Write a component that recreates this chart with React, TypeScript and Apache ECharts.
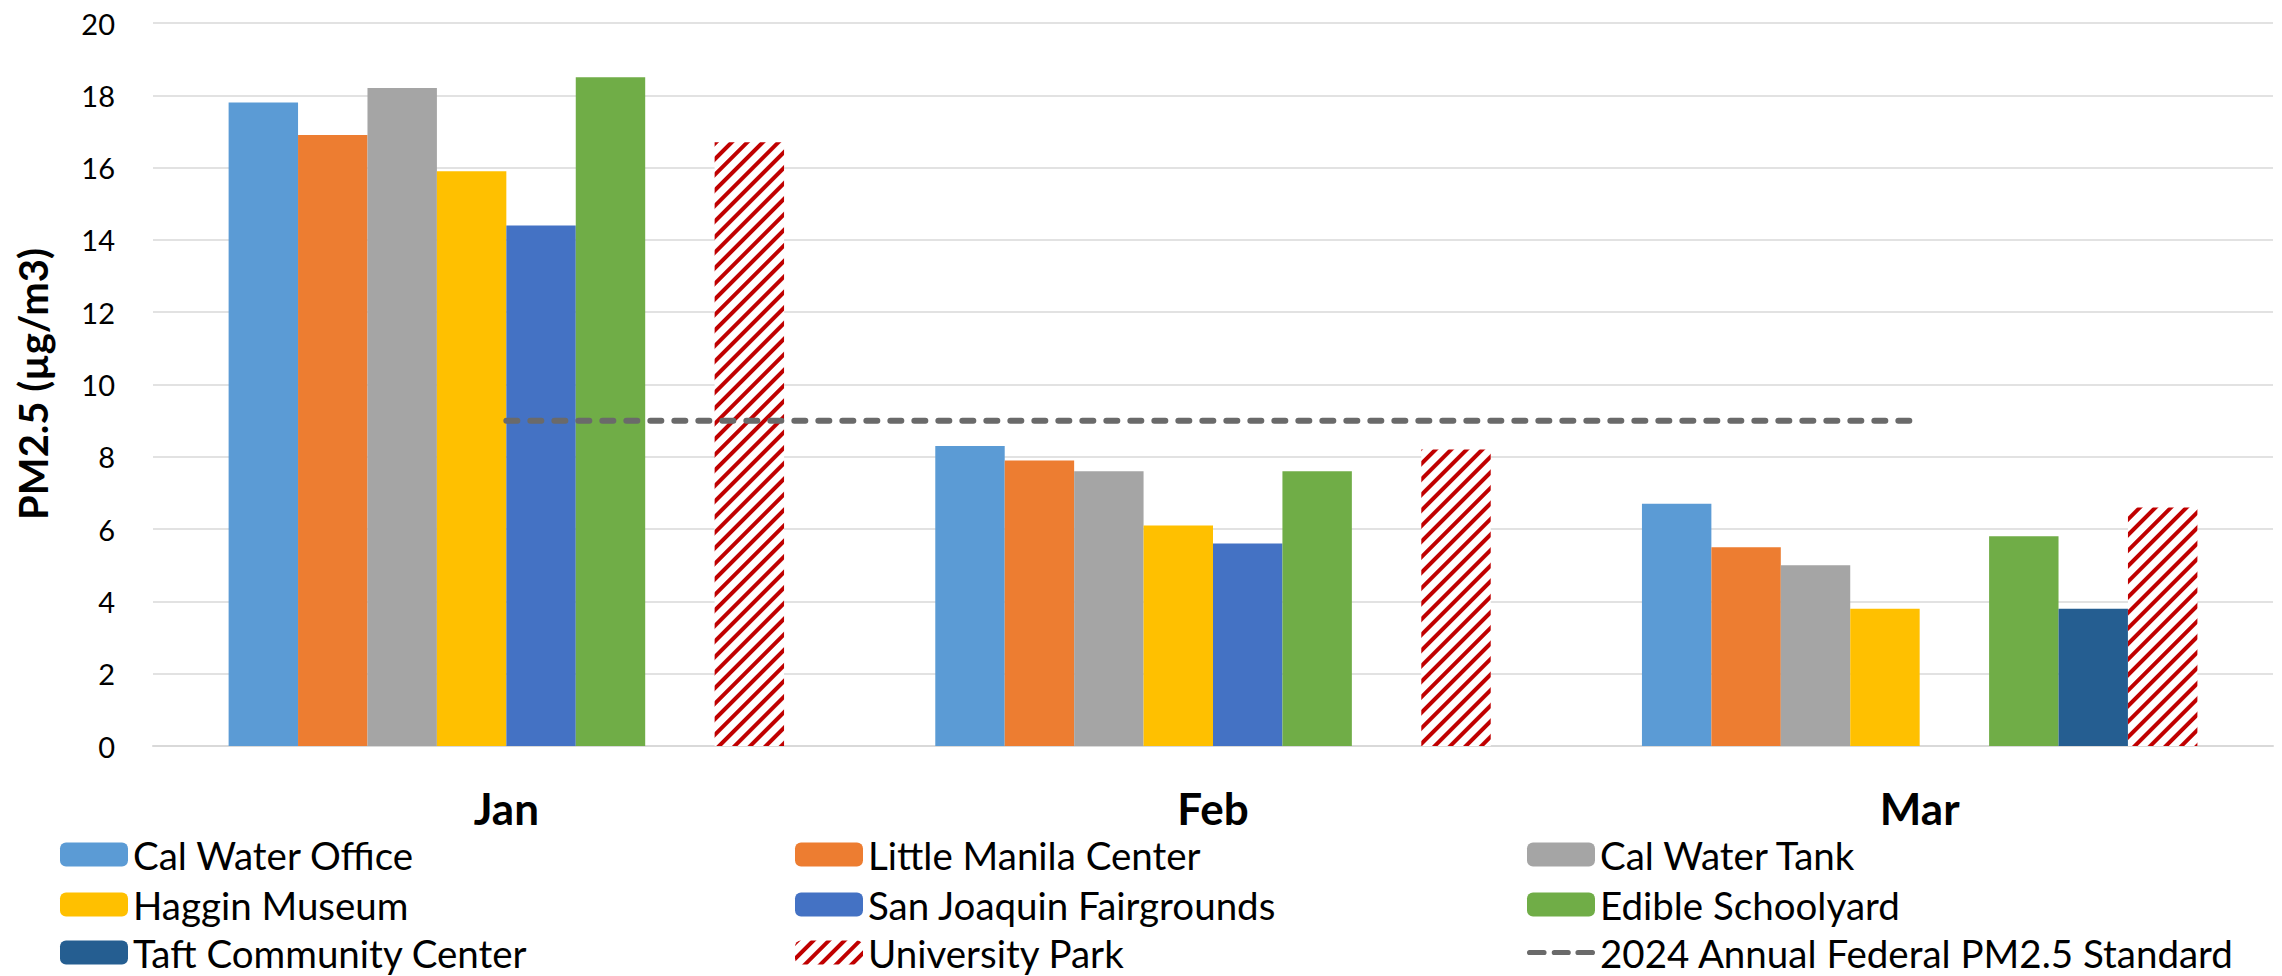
import React, { useEffect, useRef } from "react";
import * as echarts from "echarts";

const categories = ["Jan", "Feb", "Mar"];
const yTickMin = 0;
const yTickMax = 20;
const yTickStep = 2;

const calWaterOffice = [17.8, 8.3, 6.7];
const littleManilaCenter = [16.9, 7.9, 5.5];
const calWaterTank = [18.2, 7.6, 5.0];
const hagginMuseum = [15.9, 6.1, 3.8];
const sanJoaquinFairgrounds = [14.4, 5.6, null];
const edibleSchoolyard = [18.5, 7.6, 5.8];
const taftCommunityCenter = [null, null, 3.8];
const universityPark = [16.7, 8.2, 6.6];
const federalStandard = [9, 9, 9];

const barNames = [
  "Cal Water Office",
  "Little Manila Center",
  "Cal Water Tank",
  "Haggin Museum",
  "San Joaquin Fairgrounds",
  "Edible Schoolyard",
  "Taft Community Center",
  "University Park",
];
const lineName = "2024 Annual Federal PM2.5 Standard";
const barValues = [
  calWaterOffice,
  littleManilaCenter,
  calWaterTank,
  hagginMuseum,
  sanJoaquinFairgrounds,
  edibleSchoolyard,
  taftCommunityCenter,
  universityPark,
];
const barColors = [
  "#5B9BD5",
  "#ED7D31",
  "#A5A5A5",
  "#FFC000",
  "#4472C4",
  "#70AD47",
  "#255E91",
  "#FFFFFF",
];

// legend grid: 3 columns x 3 rows
const legendColumns = [
  ["Cal Water Office", "Haggin Museum", "Taft Community Center"],
  ["Little Manila Center", "San Joaquin Fairgrounds", "University Park"],
  ["Cal Water Tank", "Edible Schoolyard", lineName],
];
const legendLefts = [60, 795, 1527];
const legendTops = [835, 885, 933];

const FONT = "Lato";

const dashIcon =
  "path://M2.5,0H16.5A2.5,2.5,0,0,1,16.5,5H2.5A2.5,2.5,0,0,1,2.5,0Z" +
  "M26.5,0H40A2.5,2.5,0,0,1,40,5H26.5A2.5,2.5,0,0,1,26.5,0Z" +
  "M49.5,0H63.5A2.5,2.5,0,0,1,63.5,5H49.5A2.5,2.5,0,0,1,49.5,0Z";

export default function App() {
  const ref = useRef<HTMLDivElement>(null);
  useEffect(() => {
    document.body.style.margin = "0";
    const chart = echarts.init(ref.current!, null, { renderer: "svg" });
    const hatch = {
      color: "#C00000",
      dashArrayX: [1, 0],
      dashArrayY: [4, 7],
      symbolSize: 1,
      rotation: -Math.PI / 4,
    };
    const series: any[] = barNames.map((name, i) => ({
      name,
      type: "bar",
      data: barValues[i],
      barGap: "0%",
      barCategoryGap: "21.4%",
      itemStyle:
        name === "University Park"
          ? { color: "#FFFFFF", decal: hatch }
          : { color: barColors[i] },
      z: 2,
    }));
    series.push({
      name: lineName,
      type: "line",
      data: federalStandard,
      symbol: "none",
      lineStyle: { color: "#6A6A6A", width: 6, type: [11, 13], cap: "round" },
      itemStyle: { color: "#6A6A6A" },
      z: 5,
    });
    const legends: any[] = [];
    legendColumns.forEach((col, ci) => {
      col.forEach((name, ri) => {
        legends.push({
          data: [name === lineName ? { name, icon: dashIcon } : name],
          orient: "horizontal",
          left: legendLefts[ci],
          top: legendTops[ri],
          padding: 0,
          itemWidth: 68,
          itemHeight: 24,
          selectedMode: false,
          textStyle: {
            fontFamily: FONT,
            fontSize: 38.5,
            color: "#000",
            lineHeight: 36,
          },
        });
      });
    });
    chart.setOption({
      animation: false,
      aria: { enabled: false, decal: { show: false } },
      grid: { left: 153, right: 9, top: 23, bottom: 230, containLabel: false },
      xAxis: {
        type: "category",
        data: categories,
        axisLine: { lineStyle: { color: "#D9D9D9", width: 2 } },
        axisTick: { show: false },
        axisLabel: {
          fontFamily: FONT,
          fontSize: 44,
          fontWeight: "bold",
          color: "#000",
          margin: 40,
          lineHeight: 44,
        },
      },
      yAxis: {
        type: "value",
        min: yTickMin,
        max: yTickMax,
        interval: yTickStep,
        axisLine: { show: false },
        axisTick: { show: false },
        splitLine: { lineStyle: { color: "#D9D9D9", width: 1.5 } },
        axisLabel: { fontFamily: FONT, fontSize: 29, color: "#000", margin: 38 },
      },
      legend: legends,
      graphic: [
        {
          type: "text",
          x: 33,
          y: 384,
          rotation: Math.PI / 2,
          style: {
            text: "PM2.5 (µg/m3)",
            fontFamily: FONT,
            fontSize: 40,
            fontWeight: "bold",
            fill: "#000",
            align: "center",
            verticalAlign: "middle",
          },
        },
      ],
      series,
    });
    return () => chart.dispose();
  }, []);
  return (
    <div
      ref={ref}
      style={{ position: "absolute", left: 0, top: 0, width: 2282, height: 976 }}
    />
  );
}
